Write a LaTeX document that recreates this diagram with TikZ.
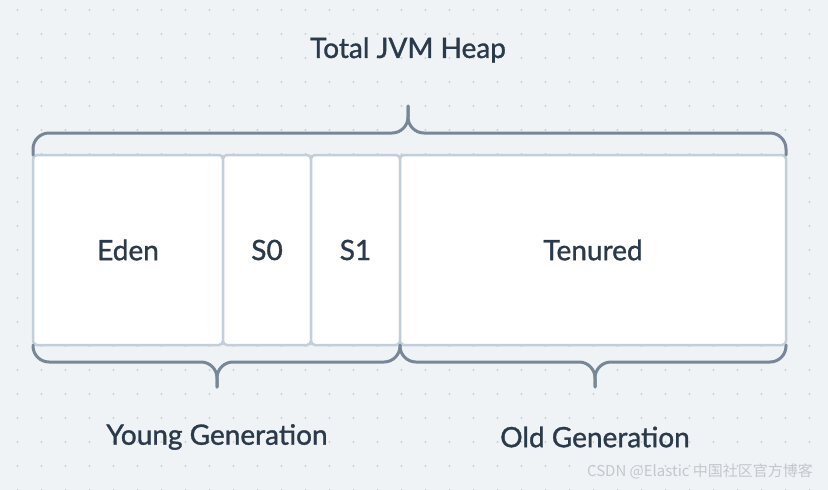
\documentclass[tikz,border=0pt]{standalone}
\usepackage{fontspec}
\setmainfont{Lato}
\newfontfamily\labelfont{Lato}[FakeBold=1.2]
\newfontfamily\cjkfont{Noto Sans CJK SC}
\usetikzlibrary{positioning}
\definecolor{bgpaper}{HTML}{EFF3F6}
\definecolor{griddot}{HTML}{C9D2DB}
\definecolor{boxline}{HTML}{C2CED8}
\definecolor{braceline}{HTML}{778797}
\definecolor{labeltext}{HTML}{2B3A4B}
\definecolor{markgray}{HTML}{C4C8CC}

\begin{document}
\begin{tikzpicture}[x=1pt, y=-1pt,
    region/.style={draw=boxline, fill=white, line width=2.5pt, rounded corners=4pt,
      minimum height=190pt, inner sep=0pt, outer sep=0pt,
      font=\labelfont\fontsize{28}{32}\selectfont, text=labeltext},
    brace/.style={draw=braceline, line width=3pt, rounded corners=16pt, line cap=round},
    caption/.style={font=\labelfont\fontsize{28}{32}\selectfont, text=labeltext},
    node distance=0pt,
  ]
    \useasboundingbox[fill=bgpaper] (0,0) rectangle (828,490);
    % dotted paper
    \foreach \gx in {0,...,33}
      \foreach \gy in {0,...,20}
        \fill[griddot] ({17.5+24*\gx},{10+24*\gy}) circle (1.1pt);

    % heap regions
    \node[region, minimum width=190pt] (eden) at (128,250) {Eden};
    \node[region, minimum width=88pt, right=of eden] (s0) {S0};
    \node[region, minimum width=89pt, right=of s0] (s1) {S1};
    \node[region, minimum width=386pt, right=of s1] (tenured) {Tenured};

    % brace tips
    \coordinate (heapmid) at (408,133);
    \coordinate (heaptip) at (408,106);
    \coordinate (youngmid) at (217,362);
    \coordinate (youngtip) at (217,387);
    \coordinate (oldmid) at (595,362);
    \coordinate (oldtip) at (595,387);

    \draw[brace] (eden.north west) |- (heapmid) -- (heaptip);
    \draw[brace] (heaptip) -- (heapmid) -| (tenured.north east);
    \draw[brace] (eden.south west) |- (youngmid) -- (youngtip);
    \draw[brace] (youngtip) -- (youngmid) -| (s1.south east);
    \draw[brace] (s1.south east) |- (oldmid) -- (oldtip);
    \draw[brace] (oldtip) -- (oldmid) -| (tenured.south east);

    \node[caption] (heap) at (408,50) {Total JVM Heap};
    \node[caption] (young) at (217,437) {Young Generation};
    \node[caption] (old) at (595,437) {Old Generation};

    \node[font=\cjkfont\fontsize{15}{18}\selectfont, text=markgray] (mark) at (700,471) {CSDN @Elastic 中国社区官方博客};
  \end{tikzpicture}
\end{document}
